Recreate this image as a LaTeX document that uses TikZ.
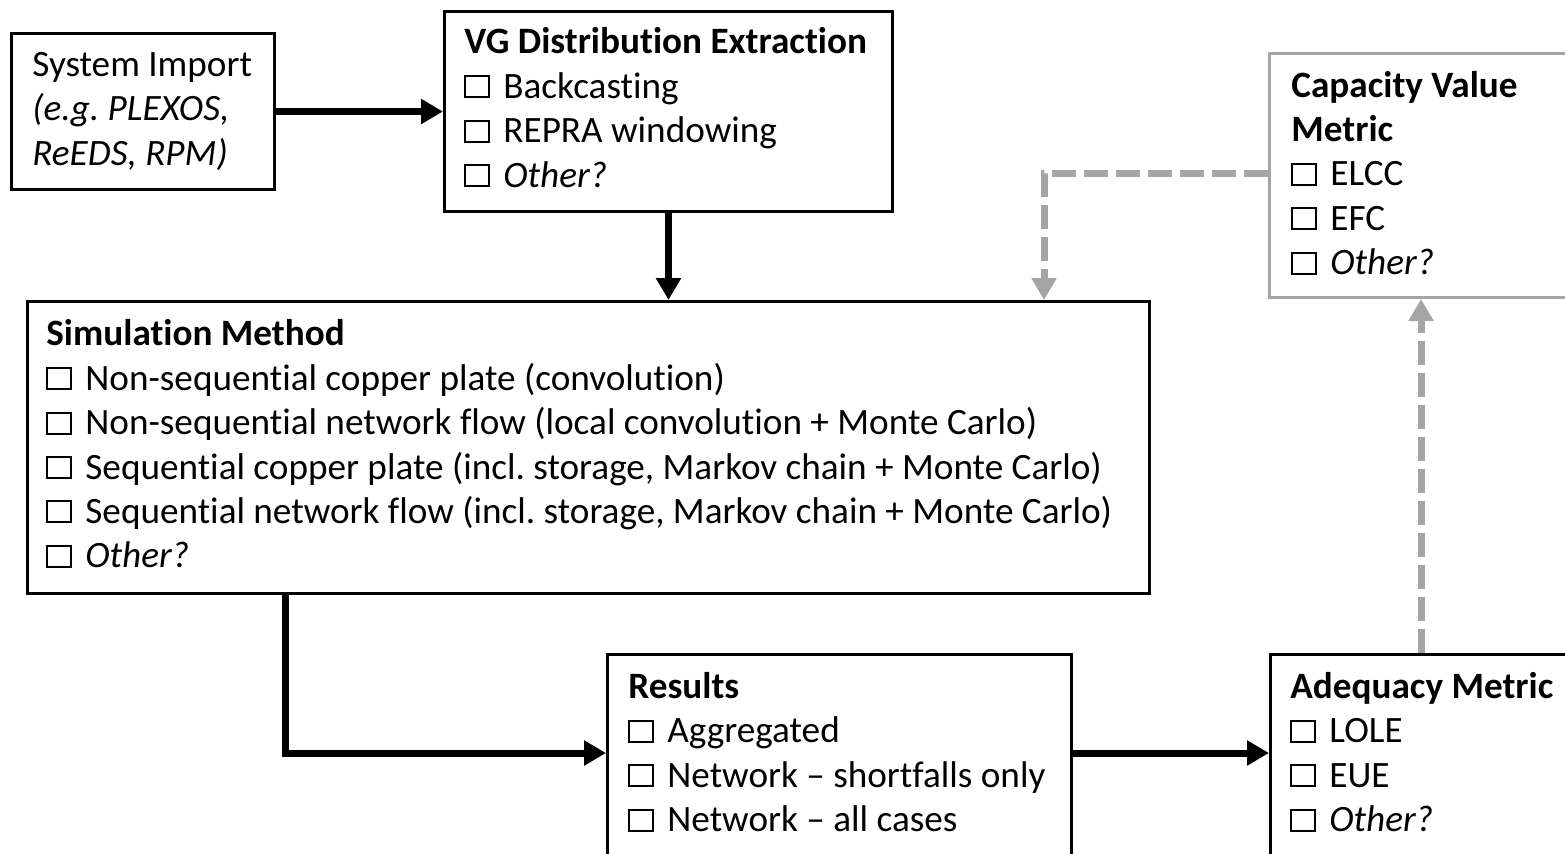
\documentclass[tikz,border=0pt]{standalone}
\usepackage{fontspec}
\setmainfont{Carlito}[Ligatures=NoCommon]
\usetikzlibrary{arrows.meta}
\definecolor{lgray}{RGB}{165,165,165}
\frenchspacing
% empty tick box used in front of every option
\newcommand\chk{\raisebox{1pt}{\fboxsep0pt\fboxrule1pt\fbox{\rule{0pt}{9.5pt}\rule{11pt}{0pt}}}\hspace{6.5pt}}
\begin{document}
\begin{tikzpicture}[x=0.5pt,y=-0.5pt,
  box/.style={draw, line width=1.5pt, rectangle, anchor=north west, inner sep=0pt},
  gbox/.style={box, draw=lgray},
  txt/.style={anchor=north west, inner sep=0pt, align=left, font=\fontsize{18.6}{22.2}\selectfont},
  arr/.style={line width=3.5pt, -{Triangle[length=11pt,width=12pt]}},
  garr/.style={arr, draw=lgray, dash pattern=on 12pt off 4pt}
]
\useasboundingbox (0,0) rectangle (1565,853);
\clip (0,0) rectangle (1565,853);

% boxes
\node[box, minimum width=131.5pt, minimum height=78pt] (imp) at (10,32) {};
\node[box, minimum width=224pt, minimum height=100pt] (vg) at (443,10) {};
\node[box, minimum width=561pt, minimum height=146pt] (sim) at (26,300) {};
\node[gbox, minimum width=170pt, minimum height=122pt] (cap) at (1268,52) {};
\node[box, minimum width=232pt, minimum height=130pt] (res) at (606,653) {};
\node[box, minimum width=170pt, minimum height=130pt] (adq) at (1269,653) {};

% box contents
\node[txt] (imp-t) at (32,45) {\strut System Import\\ \textit{(e.g. PLEXOS,}\\ \textit{ReEDS, RPM)}};
\node[txt] (vg-t) at (464,22.4) {\strut\textbf{VG Distribution Extraction}\\ \chk Backcasting\\ \chk REPRA windowing\\ \chk\textit{Other?}};
\node[txt] (sim-t) at (46,314.4) {\strut\textbf{Simulation Method}\\
  \chk Non-sequential copper plate (convolution)\\
  \chk Non-sequential network flow (local convolution + Monte Carlo)\\
  \chk Sequential copper plate (incl. storage, Markov chain + Monte Carlo)\\
  \chk Sequential network flow (incl. storage, Markov chain + Monte Carlo)\\
  \chk\textit{Other?}};
\node[txt] (cap-t) at (1291,65.6) {\strut\textbf{Capacity Value}\\ \textbf{Metric}\\ \chk ELCC\\ \chk EFC\\ \chk\textit{Other?}};
\node[txt] (res-t) at (628,667) {\strut\textbf{Results}\\ \chk Aggregated\\ \chk Network -- shortfalls only\\ \chk Network -- all cases};
\node[txt] (adq-t) at (1290,667) {\strut\textbf{Adequacy Metric}\\ \chk LOLE\\ \chk EUE\\ \chk\textit{Other?}};

% bend points
\coordinate (k1) at (285,753);
\coordinate (k2) at (1421,0);
\coordinate (k3) at (1044,173);

% connectors
\draw[arr] (imp.east) -- (vg.west);
\draw[arr] (vg.south) -- (vg.south |- sim.north);
\draw[arr] (k1 |- sim.south) -- (k1) -- (k1 -| res.west);
\draw[arr] (k1 -| res.east) -- (k1 -| adq.west);
\draw[garr] (k2 |- adq.north) -- (k2 |- cap.south);
\draw[garr] (k3 -| cap.west) -- (k3) -- (k3 |- sim.north);
\end{tikzpicture}
\end{document}
